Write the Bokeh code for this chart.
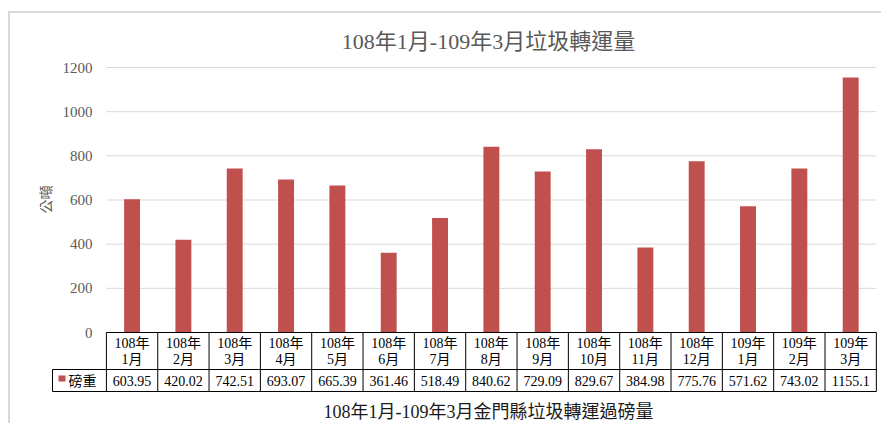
import math
from bokeh.plotting import figure
from bokeh.models import Range1d
from bokeh.embed import file_html
from bokeh.resources import INLINE
from bokeh.core.properties import value

# ---- data ----
years = ["108年"] * 12 + ["109年"] * 3
months = ["1月", "2月", "3月", "4月", "5月", "6月", "7月", "8月", "9月",
          "10月", "11月", "12月", "1月", "2月", "3月"]
weights = [603.95, 420.02, 742.51, 693.07, 665.39, 361.46, 518.49, 840.62,
           729.09, 829.67, 384.98, 775.76, 571.62, 743.02, 1155.1]
series_name = "磅重"
chart_title = "108年1月-109年3月垃圾轉運量"
table_title = "108年1月-109年3月金門縣垃圾轉運過磅量"
y_label = "公噸"
y_ticks = [0, 200, 400, 600, 800, 1000, 1200]

FONT = "Liberation Serif, Noto Sans CJK TC"
BAR = "#C0504D"
GREY_TXT = "#595959"
n = len(weights)
xs = [i + 0.5 for i in range(n)]

# ---- layout constants (pixels -> data units) ----
W, H = 881, 423
S = 51.33                 # pixels per category
K = 1200 / 265.0          # value units per pixel
LEG = 1.05                # legend column width in categories
x_start = -LEG - 52 / S
x_end = x_start + W / S
y_end = 1200 + 67 * K
y_start = y_end - H * K


def X(px):
    return x_start + px / S


def Y(py):
    return 1200 - (py - 67) * K


p = figure(width=W, height=H, output_backend="svg", toolbar_location=None,
           x_range=Range1d(x_start, x_end), y_range=Range1d(y_start, y_end),
           x_axis_location=None, y_axis_location=None,
           min_border_left=0, min_border_right=0, min_border_top=0,
           min_border_bottom=0)
p.outline_line_color = None
p.grid.visible = False

# chart border
p.segment(x0=[X(8.5), X(7.5)], x1=[X(8.5), X(881)], y0=[Y(11), Y(11.5)],
          y1=[Y(423), Y(11.5)], line_color="#D9D9D9", line_width=2)

# title
p.text(x=[X(488)], y=[Y(41)], text=[chart_title], text_font=value(FONT),
       text_font_size="22px", text_align="center", text_baseline="middle",
       text_color=GREY_TXT)

# gridlines + value labels
p.segment(x0=[0] * len(y_ticks), x1=[n] * len(y_ticks), y0=y_ticks, y1=y_ticks,
          line_color="#D9D9D9", line_width=1)
p.text(x=[X(92)] * len(y_ticks), y=y_ticks, text=[str(t) for t in y_ticks],
       text_font=value(FONT), text_font_size="15px", text_align="right",
       text_baseline="middle", text_color=GREY_TXT)
p.text(x=[X(44)], y=[Y(199)], text=[y_label], angle=math.pi / 2,
       text_font=value("Noto Sans CJK TC"), text_font_size="14px",
       text_align="center", text_baseline="middle", text_color=GREY_TXT)

# bars
p.vbar(x=xs, top=weights, width=0.31, bottom=0, fill_color=BAR, line_color=None)

# ---- data table ----
yt, ym, yb = 0, Y(369), Y(391)
p.segment(x0=[0, -LEG, -LEG], x1=[n, n, n], y0=[yt, ym, yb], y1=[yt, ym, yb],
          line_color="#000000", line_width=1)
vx = [-LEG] + list(range(n + 1))
p.segment(x0=vx, x1=vx, y0=[ym] + [yt] * (n + 1), y1=[yb] * len(vx),
          line_color="#000000", line_width=1)

p.text(x=xs, y=[Y(343)] * n, text=years, text_font=value(FONT), text_font_size="14px",
       text_align="center", text_baseline="middle", text_color="#000000")
p.text(x=xs, y=[Y(359)] * n, text=months, text_font=value(FONT), text_font_size="14px",
       text_align="center", text_baseline="middle", text_color="#000000")
p.text(x=xs, y=[Y(380.5)] * n, text=[f"{v:g}" for v in weights], text_font=value(FONT),
       text_font_size="14px", text_align="center", text_baseline="middle",
       text_color="#000000")
# legend key
p.rect(x=[X(61.5)], y=[Y(378)], width=7, height=6, width_units="screen",
       height_units="screen", fill_color=BAR, line_color=None)
p.text(x=[X(68)], y=[Y(380.5)], text=[series_name], text_font=value(FONT),
       text_font_size="14px", text_align="left", text_baseline="middle",
       text_color="#000000")
# table title
p.text(x=[X(488)], y=[Y(411)], text=[table_title], text_font=value(FONT),
       text_font_size="18px", text_align="center", text_baseline="middle",
       text_color="#1a1a1a")

open("out.html", "w").write(file_html(p, INLINE))
